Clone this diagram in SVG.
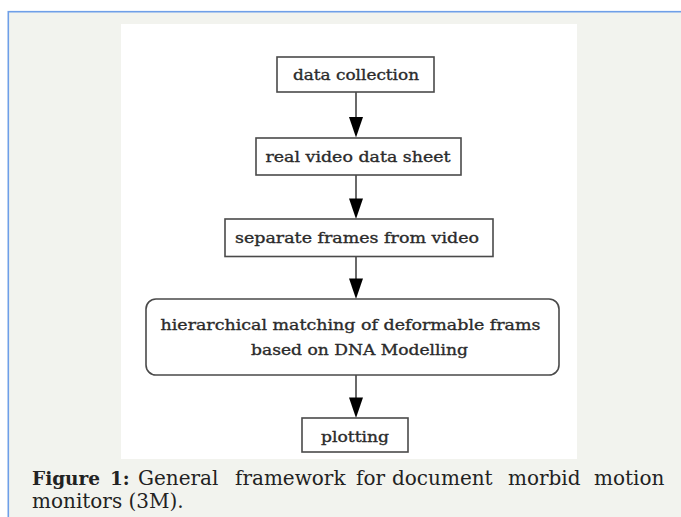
<svg xmlns="http://www.w3.org/2000/svg" width="681" height="517" viewBox="0 0 681 517">
<defs>
<style>
.node rect{fill:#ffffff;stroke:#4a4a4a;stroke-width:1.6}
.node text{font-family:"DejaVu Serif",serif;font-size:15.5px;fill:#2b2b2b;stroke:#2b2b2b;stroke-width:0.35;text-anchor:middle}
.conn line{stroke:#2a2a2a;stroke-width:1.4}
.conn path{fill:#000000}
.cap{font-family:"DejaVu Serif",serif;font-size:20px;fill:#222222}
.cap .b{font-weight:bold;font-size:18.5px}
</style>
</defs>
<rect x="0" y="0" width="681" height="517" fill="#ffffff"/>
<rect x="8.3" y="11.7" width="680" height="510" fill="#f2f3ee" stroke="#6f9fe8" stroke-width="1.6"/>
<rect x="121" y="24" width="456" height="435" fill="#ffffff"/>
<g id="connectors" class="conn">
<line x1="356" y1="92" x2="356" y2="117"/>
<line x1="356" y1="175" x2="356" y2="199"/>
<line x1="356" y1="257" x2="356" y2="279"/>
<line x1="356" y1="375" x2="356" y2="398"/>
<path d="M349,117 L363,117 L356,137.5 Z"/>
<path d="M349,198.5 L363,198.5 L356,219 Z"/>
<path d="M349,278.5 L363,278.5 L356,299 Z"/>
<path d="M349,397.5 L363,397.5 L356,418 Z"/>
</g>
<g id="n1" class="node">
<rect x="277" y="57" width="157" height="35"/>
<text x="356" y="80" textLength="126" lengthAdjust="spacingAndGlyphs">data collection</text>
</g>
<g id="n2" class="node">
<rect x="256" y="138" width="205" height="37"/>
<text x="358" y="161.5" textLength="185" lengthAdjust="spacingAndGlyphs">real video data sheet</text>
</g>
<g id="n3" class="node">
<rect x="225" y="219" width="268" height="37.5"/>
<text x="357" y="243" textLength="244" lengthAdjust="spacingAndGlyphs">separate frames from video</text>
</g>
<g id="n4" class="node">
<rect x="146" y="299" width="413" height="76" rx="10" ry="10"/>
<text x="350.5" y="330" textLength="380" lengthAdjust="spacingAndGlyphs">hierarchical matching of deformable frams</text>
<text x="359.5" y="355" textLength="217" lengthAdjust="spacingAndGlyphs">based on DNA Modelling</text>
</g>
<g id="n5" class="node">
<rect x="302" y="418" width="106" height="34"/>
<text x="355" y="442" textLength="68" lengthAdjust="spacingAndGlyphs">plotting</text>
</g>
<g id="caption" class="cap">
<text y="485"><tspan x="32" class="b">Figure</tspan><tspan x="110" class="b">1:</tspan><tspan x="138">General</tspan><tspan x="235">framework</tspan><tspan x="356">for</tspan><tspan x="392">document</tspan><tspan x="508">morbid</tspan><tspan x="594">motion</tspan></text>
<text x="32" y="508">monitors (3M).</text>
</g>
</svg>
